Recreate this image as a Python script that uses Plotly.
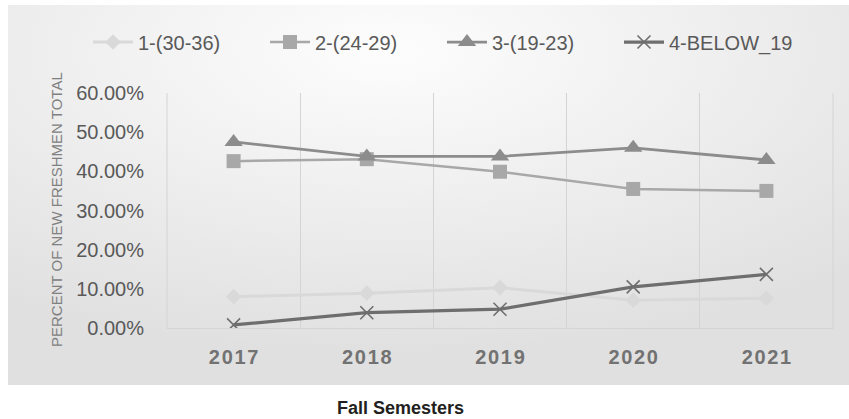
import plotly.graph_objects as go
import base64

years = ["2017", "2018", "2019", "2020", "2021"]
series_names = ["1-(30-36)", "2-(24-29)", "3-(19-23)", "4-BELOW_19"]
s1_30_36 = [0.080, 0.089, 0.103, 0.071, 0.076]
s2_24_29 = [0.426, 0.431, 0.399, 0.355, 0.350]
s3_19_23 = [0.475, 0.438, 0.438, 0.460, 0.429]
s4_below19 = [0.008, 0.039, 0.048, 0.105, 0.137]
y_ticks = [0, 0.1, 0.2, 0.3, 0.4, 0.5, 0.6]

values = [s1_30_36, s2_24_29, s3_19_23, s4_below19]
colors = ["#d9d9d9", "#a8a8a8", "#8c8c8c", "#6e6e6e"]
symbols = ["diamond", "square", "triangle-up", "x-thin"]
sizes = [12, 14, 16, 13]
widths = [3, 2.5, 2.75, 3.25]

base_font = "Liberation Sans, Arial, sans-serif"

fig = go.Figure()
for name, vals, c, sym, sz, w in zip(series_names, values, colors, symbols, sizes, widths):
    marker = dict(symbol=sym, size=sz, color=c)
    if sym == "x-thin":
        marker["line"] = dict(color=c, width=1.6)
    fig.add_trace(go.Scatter(x=years, y=vals, name=name, mode="lines+markers",
                             line=dict(color=c, width=w), marker=marker))

svg = ('<svg xmlns="http://www.w3.org/2000/svg" width="841" height="380" preserveAspectRatio="none">'
       '<defs><radialGradient id="g" cx="0.45" cy="0.12" r="0.8">'
       '<stop offset="0" stop-color="#fdfdfd"/><stop offset="1" stop-color="#e0e0e0"/>'
       '</radialGradient></defs><rect width="841" height="380" fill="url(#g)"/></svg>')
uri = "data:image/svg+xml;base64," + base64.b64encode(svg.encode()).decode()

W, H = 849, 419
L, R, T, B = 167, 16, 93, 91
pw, ph = W - L - R, H - T - B

def px(x):
    return (x - L) / pw

def py(y):
    return (H - B - y) / ph

fig.add_layout_image(dict(source=uri, xref="paper", yref="paper",
                          x=px(8), y=py(5), sizex=px(849) - px(8), sizey=py(5) - py(385),
                          xanchor="left", yanchor="top", sizing="stretch", layer="below"))

# plot-area side borders (category boundary lines at both edges)
for xe in (0, 1):
    fig.add_shape(type="line", xref="paper", yref="paper", x0=xe, x1=xe, y0=0, y1=1,
                  line=dict(color="#d4d4d4", width=1), layer="below")

fig.update_layout(
    width=W, height=H,
    margin=dict(l=L, r=R, t=T, b=B),
    paper_bgcolor="white", plot_bgcolor="rgba(0,0,0,0)",
    showlegend=True,
    legend=dict(orientation="h", x=px(88), y=py(42), xanchor="left", yanchor="middle",
                font=dict(family=base_font, size=20, color="#595959"),
                bgcolor="rgba(0,0,0,0)", itemwidth=40, entrywidth=122, entrywidthmode="pixels"),
    font=dict(family=base_font),
)
fig.update_xaxes(type="category", range=[-0.5, 4.5], tickson="boundaries", ticks="",
                 showgrid=True, gridcolor="#d4d4d4", gridwidth=1,
                 showline=True, linecolor="#d4d4d4", linewidth=1,
                 tickvals=years, ticktext=["\u200a".join(list(y)) for y in years],
                 tickfont=dict(size=20, color="#727272", family=base_font, weight="bold"),
                 ticklabelstandoff=11, zeroline=False)
fig.update_yaxes(range=[0, 0.6], tickvals=y_ticks, tickformat=".2%", showgrid=False,
                 zeroline=False, showline=False, ticks="", ticklabelstandoff=22,
                 tickfont=dict(size=20, color="#595959"))

fig.add_annotation(text="PERCENT OF NEW FRESHMEN TOTAL", xref="paper", yref="paper",
                   x=px(56), y=py(210), xanchor="center", yanchor="middle", textangle=-90,
                   showarrow=False, font=dict(size=15, color="#808080", family=base_font))

fig.add_annotation(text="<b>Fall Semesters</b>", xref="paper", yref="paper",
                   x=px(400), y=py(408), xanchor="center", yanchor="middle", showarrow=False,
                   font=dict(size=18, color="#231f20", family=base_font))

fig.write_html("out.html", config={"displayModeBar": False},
               post_script="document.body.style.margin='0px';")
